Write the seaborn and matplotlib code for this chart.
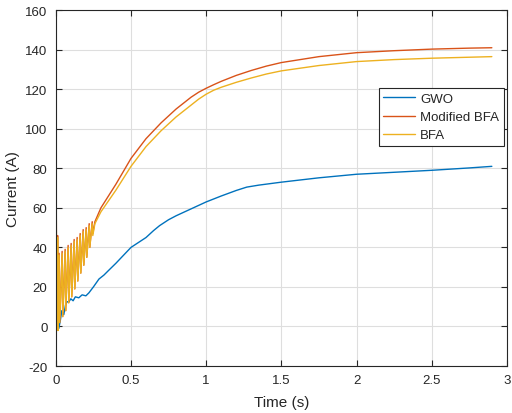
import seaborn as sns
import matplotlib.pyplot as plt
import pandas as pd

# start-up ripple (shared time base for both BFA runs), then the smooth rise
ripple_t = [0, 0.004, 0.008, 0.012, 0.016, 0.022, 0.026, 0.042, 0.046, 0.062, 0.066,
            0.082, 0.086, 0.102, 0.106, 0.122, 0.126, 0.142, 0.146, 0.162, 0.166,
            0.182, 0.186, 0.202, 0.206, 0.222, 0.226, 0.242, 0.246, 0.26]
rise_t = [0.3, 0.35, 0.4, 0.45, 0.5, 0.55, 0.6, 0.65, 0.7, 0.75, 0.8, 0.85, 0.9,
          0.95, 1.0, 1.05, 1.1, 1.2, 1.3, 1.4, 1.5, 1.75, 2.0, 2.25, 2.5, 2.75, 2.9]

bfa_i = [128, 40, -2, 45, -2, 36, 2, 37, 5, 38, 8,
         40, 12, 41, 15, 43, 19, 44, 23, 46, 27,
         48, 31, 49, 35, 51, 40, 52, 46, 52,
         58, 63.5, 69, 75, 81, 86, 91, 95, 99, 102.5, 106, 109, 112,
         115, 117.5, 119.5, 121, 123.5, 125.7, 127.7, 129.3, 132, 134, 135, 135.7, 136.2, 136.5]

mbfa_i = [130, 41, -2, 46, -2, 37, 2, 38, 5, 39, 8,
          41, 12, 42, 15, 44, 19, 45, 23, 47, 27,
          49, 31, 50, 35, 52, 40, 53, 47, 53,
          60, 66, 72, 78.5, 85, 90, 95, 99, 103, 106.5, 110, 113, 116,
          118.5, 120.5, 122.3, 124, 127, 129.5, 131.7, 133.5, 136.5, 138.5, 139.5, 140.3, 140.8, 141]

gwo_t = [0.02, 0.03, 0.04, 0.053, 0.065, 0.075, 0.087, 0.1, 0.115, 0.13, 0.153,
         0.175, 0.2, 0.22, 0.25, 0.287, 0.32, 0.353, 0.4, 0.45, 0.5, 0.55, 0.6,
         0.65, 0.69, 0.75, 0.8, 0.9, 1.0, 1.1, 1.2, 1.27, 1.35, 1.5, 1.75, 2.0,
         2.25, 2.5, 2.75, 2.9]
gwo_i = [-1, 3, 8, 6, 11, 12.5, 12.5, 14, 13, 15, 14.5,
         16, 15.5, 17, 20, 24, 26, 28.5, 32, 36, 40, 42.5, 45,
         48.5, 51, 54, 56, 59.5, 63, 66, 68.8, 70.5, 71.5, 73, 75.2, 77,
         78, 79, 80.2, 81]

series = [("GWO", gwo_t, gwo_i, "#0072BD"),
          ("Modified BFA", ripple_t + rise_t, mbfa_i, "#D95319"),
          ("BFA", ripple_t + rise_t, bfa_i, "#EDB120")]

sns.set_style("whitegrid")
plt.rcParams['font.family'] = ['Liberation Sans', 'DejaVu Sans']
plt.rcParams['axes.unicode_minus'] = False

fig = plt.figure(figsize=(5.12, 4.14), dpi=100)
ax = fig.add_axes([0.109, 0.1135, 0.881, 0.8595])

for name, t, i, c in series:
    df = pd.DataFrame({"t": t, "i": i})
    sns.lineplot(data=df, x="t", y="i", ax=ax, color=c, label=name,
                 estimator=None, sort=False, linewidth=1.0)

ax.set_xlim(0, 3)
ax.set_ylim(-20, 160)
ax.set_xticks([0, 0.5, 1, 1.5, 2, 2.5, 3])
ax.set_xticklabels(["0", "0.5", "1", "1.5", "2", "2.5", "3"])
ax.set_yticks(range(-20, 161, 20))
ax.set_xlabel("Time (s)", fontsize=11, labelpad=6)
ax.set_ylabel("Current (A)", fontsize=11, labelpad=4)
ax.tick_params(direction="in", length=4, labelsize=9.5, colors="#262626", pad=6,
               top=True, right=True, bottom=True, left=True)
ax.grid(True, color="#dedede", linewidth=0.8)
for s in ax.spines.values():
    s.set_color("#262626")
    s.set_linewidth(0.8)

leg = ax.legend(loc="upper right", bbox_to_anchor=(0.993, 0.781), fontsize=9.5,
                fancybox=False, framealpha=1, edgecolor="#262626", borderaxespad=0,
                borderpad=0.35, labelspacing=0.45, handlelength=2.4, handletextpad=0.4)
leg.get_frame().set_linewidth(0.8)

fig.savefig("out.png", dpi=100)
